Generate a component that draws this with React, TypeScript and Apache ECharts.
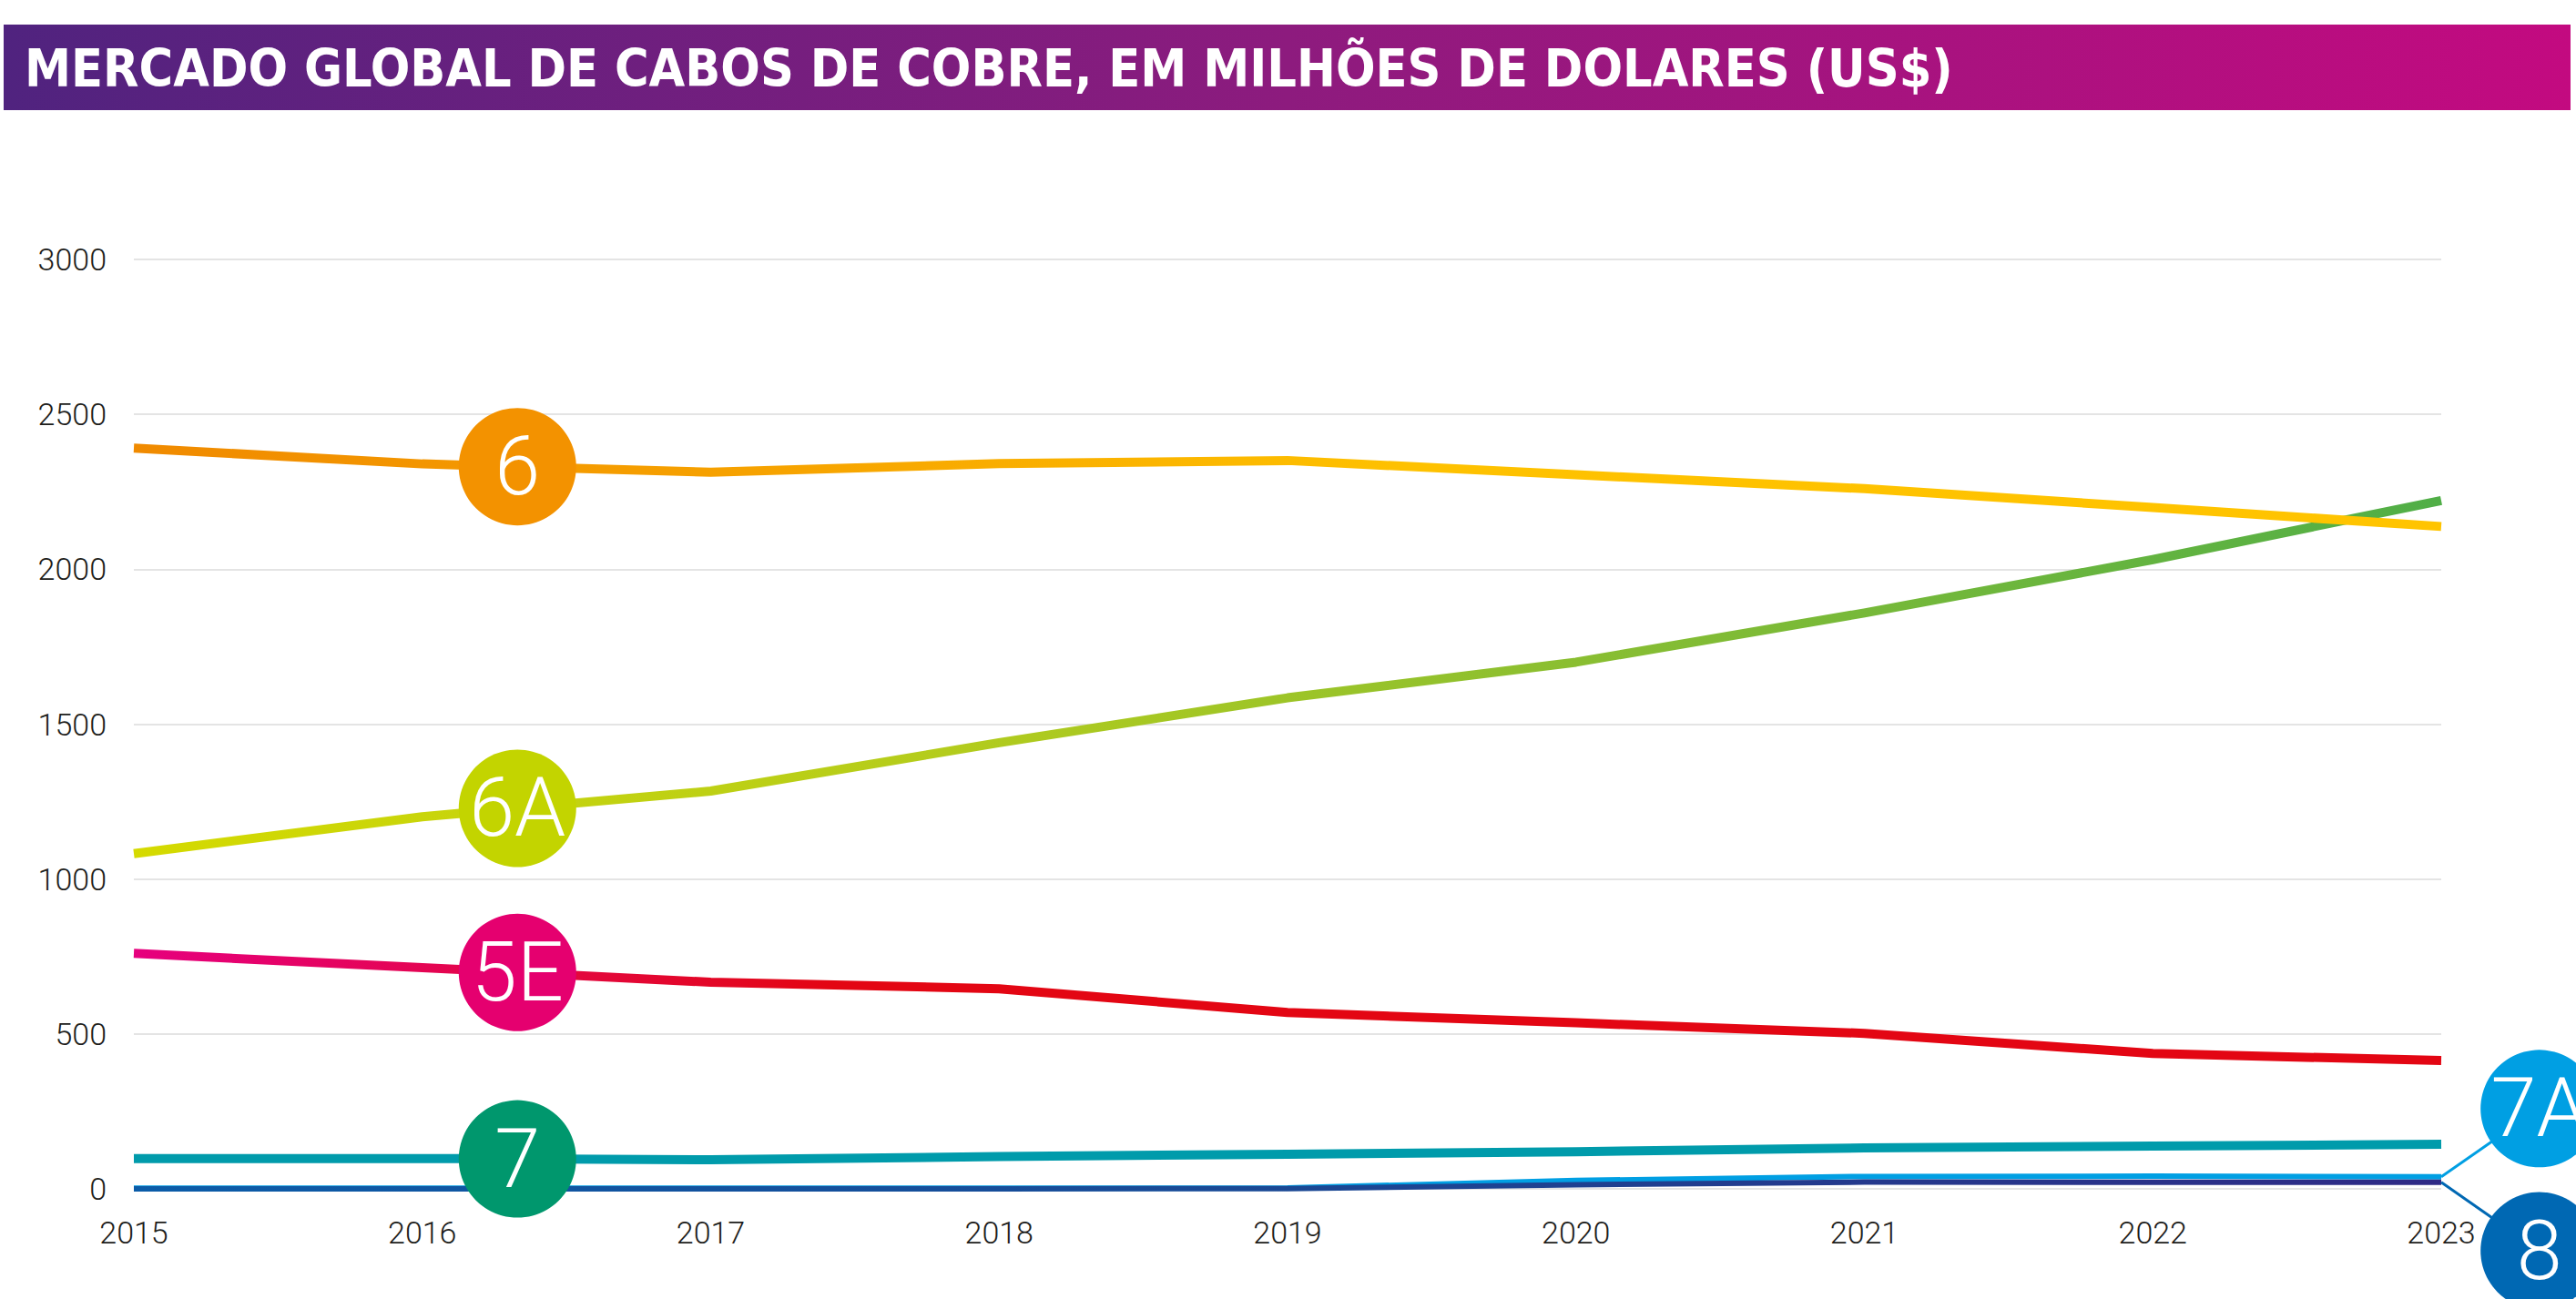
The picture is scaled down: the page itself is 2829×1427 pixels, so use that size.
import React, { useEffect, useRef } from "react";
import * as echarts from "echarts";

const TITLE = "MERCADO GLOBAL DE CABOS DE COBRE, EM MILHÕES DE DOLARES (US$)";
const years = [2015, 2016, 2017, 2018, 2019, 2020, 2021, 2022, 2023];
const yTicks = [0, 500, 1000, 1500, 2000, 2500, 3000];

const cat6 = [2391, 2340, 2313, 2341, 2351, 2305, 2260, 2199, 2138];
const cat6A = [1082, 1201, 1284, 1440, 1585, 1700, 1859, 2031, 2222];
const cat5E = [760, 714, 667, 646, 569, 536, 502, 437, 414];
const cat7 = [98, 98, 94, 104, 112, 120, 132, 138, 144];
const cat7A = [2, 2, 2, 2, 3, 27, 40, 41, 39];
const cat8 = [0, 0, 0, 0, 1, 13, 22, 21, 21];

// badge placement (in axis units)
const badgeYear = 2016.33;
const calloutYear = 2023.34;
const callout7AValue = 259;
const callout8Value = -200;

const FONT = "Roboto, 'DejaVu Sans', sans-serif";

function interp(arr: number[], x: number) {
  const i = Math.floor(x - years[0]);
  const t = x - years[0] - i;
  return arr[i] + t * (arr[i + 1] - arr[i]);
}

function grad(stops: [number, string][]) {
  return new echarts.graphic.LinearGradient(
    0, 0, 1, 0,
    stops.map(([offset, color]) => ({ offset, color }))
  );
}

function lineSeries(name: string, data: number[], color: any, width: number) {
  return {
    name,
    type: "line",
    data: years.map((y, i) => [y, data[i]]),
    symbol: "none",
    smooth: false,
    lineStyle: { width, color, cap: "butt", join: "round" },
    itemStyle: { color },
    z: 2,
  };
}

export default function App() {
  const ref = useRef<HTMLDivElement>(null);
  useEffect(() => {
    if (!ref.current) return;
    const chart = echarts.init(ref.current, null, { renderer: "svg" });

    const badges = [
      { name: "6", value: [badgeYear, interp(cat6, badgeYear)], color: "#f39200" },
      { name: "6A", value: [badgeYear, interp(cat6A, badgeYear)], color: "#c3d400" },
      { name: "5E", value: [badgeYear, interp(cat5E, badgeYear)], color: "#e5006f" },
      { name: "7", value: [badgeYear, interp(cat7, badgeYear)], color: "#00976d" },
      { name: "7A", value: [calloutYear, callout7AValue], color: "#009fe3" },
      { name: "8", value: [calloutYear, callout8Value], color: "#0068b3" },
    ];

    const last = years.length - 1;

    chart.setOption({
      animation: false,
      backgroundColor: "#ffffff",
      grid: { left: 147, right: 148, top: 285, bottom: 121 },
      xAxis: {
        type: "value",
        min: 2015,
        max: 2023,
        interval: 1,
        axisLine: { show: false },
        axisTick: { show: false },
        splitLine: { show: false },
        axisLabel: {
          formatter: (v: number) => String(v),
          color: "#1d1d1b",
          fontSize: 34,
          fontFamily: FONT,
          fontWeight: 300,
          margin: 31,
        },
      },
      yAxis: {
        type: "value",
        min: 0,
        max: 3000,
        interval: 500,
        axisLine: { show: false },
        axisTick: { show: false },
        splitLine: { show: true, lineStyle: { color: "#e4e4e4", width: 2 } },
        axisLabel: {
          formatter: (v: number) => (yTicks.includes(v) ? String(v) : ""),
          color: "#1d1d1b",
          fontSize: 34,
          fontFamily: FONT,
          fontWeight: 300,
          margin: 30,
        },
      },
      graphic: [
        {
          id: "banner",
          type: "rect",
          shape: { x: 4, y: 27, width: 2819, height: 94 },
          style: {
            fill: grad([
              [0, "#50237f"],
              [0.5, "#8d1b7e"],
              [1, "#c30a80"],
            ]),
          },
        },
        {
          id: "title",
          type: "text",
          x: 27,
          y: 75,
          style: {
            text: TITLE,
            fill: "#ffffff",
            fontSize: 57,
            fontWeight: "bold",
            fontFamily: "'DejaVu Sans Condensed', 'Roboto', sans-serif",
            verticalAlign: "middle",
            align: "left",
          },
        },
      ],
      series: [
        lineSeries("7A", cat7A, "#009fe3", 6),
        lineSeries(
          "8",
          cat8,
          grad([
            [0, "#0b5ca8"],
            [0.5, "#1a4894"],
            [1, "#2f2a85"],
          ]),
          6
        ),
        lineSeries("7", cat7, "#009bab", 10),
        lineSeries(
          "5E",
          cat5E,
          grad([
            [0, "#e6007e"],
            [0.2, "#e3073a"],
            [0.3, "#e30613"],
            [1, "#e30613"],
          ]),
          10
        ),
        lineSeries(
          "6A",
          cat6A,
          grad([
            [0, "#d5da00"],
            [0.35, "#b4cc1c"],
            [0.65, "#86bd33"],
            [1, "#50ae47"],
          ]),
          10
        ),
        lineSeries(
          "6",
          cat6,
          grad([
            [0, "#f08a00"],
            [0.3, "#f7a500"],
            [0.55, "#fec100"],
            [1, "#ffc400"],
          ]),
          10
        ),
        {
          type: "scatter",
          clip: false,
          symbol: "circle",
          symbolSize: 129,
          z: 5,
          data: badges.map((b) => ({
            name: b.name,
            value: b.value,
            itemStyle: { color: b.color, opacity: 1 },
          })),
          label: {
            show: true,
            position: "inside",
            formatter: (p: any) => p.name,
            color: "#ffffff",
            fontSize: 90,
            fontWeight: 300,
            fontFamily: FONT,
          },
          emphasis: { disabled: true },
        },
      ],
    });

    // connectors from line ends to the 7A and 8 callouts, placed via the axes
    const conv = (pt: number[]) =>
      chart.convertToPixel({ gridIndex: 0 }, pt) as number[];
    const a1 = conv([years[last], cat7A[last]]);
    const a2 = conv([calloutYear, callout7AValue]);
    const b1 = conv([years[last], cat8[last]]);
    const b2 = conv([calloutYear, callout8Value]);
    chart.setOption({
      graphic: [
        {
          id: "conn7A",
          type: "line",
          z: 4,
          shape: { x1: a1[0], y1: a1[1], x2: a2[0], y2: a2[1] },
          style: { stroke: "#009fe3", lineWidth: 3 },
        },
        {
          id: "conn8",
          type: "line",
          z: 4,
          shape: { x1: b1[0], y1: b1[1], x2: b2[0], y2: b2[1] },
          style: { stroke: "#0068b3", lineWidth: 3 },
        },
      ],
    });

    return () => chart.dispose();
  }, []);

  return (
    <div
      ref={ref}
      style={{ position: "absolute", left: 0, top: 0, width: 2829, height: 1427 }}
    />
  );
}
